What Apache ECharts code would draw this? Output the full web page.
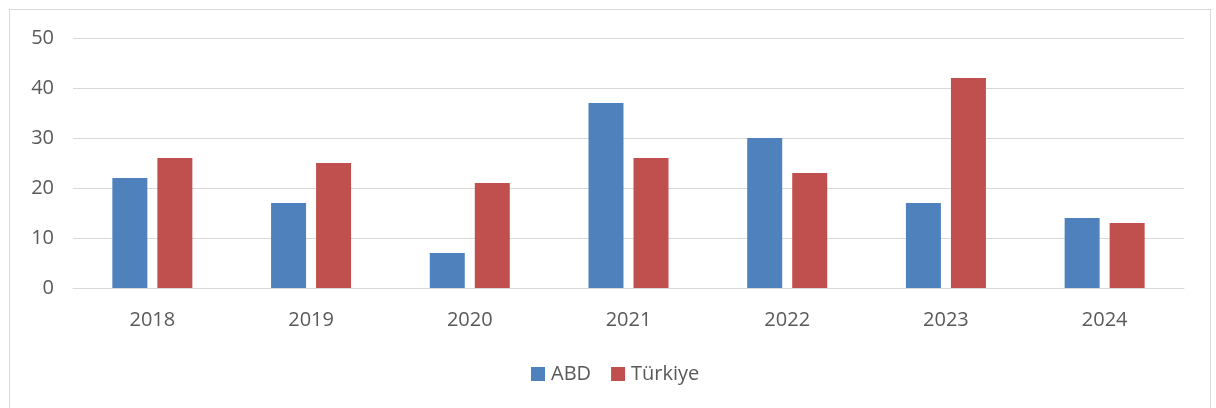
<!DOCTYPE html>
<html><head><meta charset="utf-8">
<script src="https://cdn.jsdelivr.net/npm/echarts@6/dist/echarts.min.js"></script>
<style>html,body{margin:0;padding:0;background:#fff}#c{width:1216px;height:408px}
#frame{position:absolute;left:9px;top:9px;width:1202px;height:410px;border:1px solid #d9d9d9;box-sizing:border-box;pointer-events:none}</style>
</head><body><div id="c"></div><div id="frame"></div>
<script>
const categories = ['2018','2019','2020','2021','2022','2023','2024'];
const abd = [22,17,7,37,30,17,14];
const turkiye = [26,25,21,26,23,42,13];
const chart = echarts.init(document.getElementById('c'));
const font = '"Open Sans", sans-serif';
chart.setOption({
  animation:false,
  grid:{left:73,right:32,top:38,bottom:120,containLabel:false},
  legend:{top:364,left:531,itemWidth:14,itemHeight:14,itemGap:20,icon:'rect',padding:0,
    textStyle:{color:'#595959',fontSize:20,fontFamily:font,padding:[0,0,0,1]},data:['ABD','Türkiye']},
  xAxis:{type:'category',data:categories,
    axisLine:{lineStyle:{color:'#d9d9d9',width:1}},axisTick:{show:false},
    axisLabel:{color:'#595959',fontSize:20,fontFamily:font,margin:22}},
  yAxis:{type:'value',min:0,max:50,interval:10,
    axisLine:{show:false},axisTick:{show:false},
    splitLine:{lineStyle:{color:'#d9d9d9',width:1}},
    axisLabel:{color:'#595959',fontSize:20,fontFamily:font,margin:19}},
  series:[
    {name:'ABD',type:'bar',data:abd,barWidth:35,barGap:'28.6%',itemStyle:{color:'#4f81bd'}},
    {name:'Türkiye',type:'bar',data:turkiye,barWidth:35,itemStyle:{color:'#c0504d'}}
  ]
});
</script></body></html>
